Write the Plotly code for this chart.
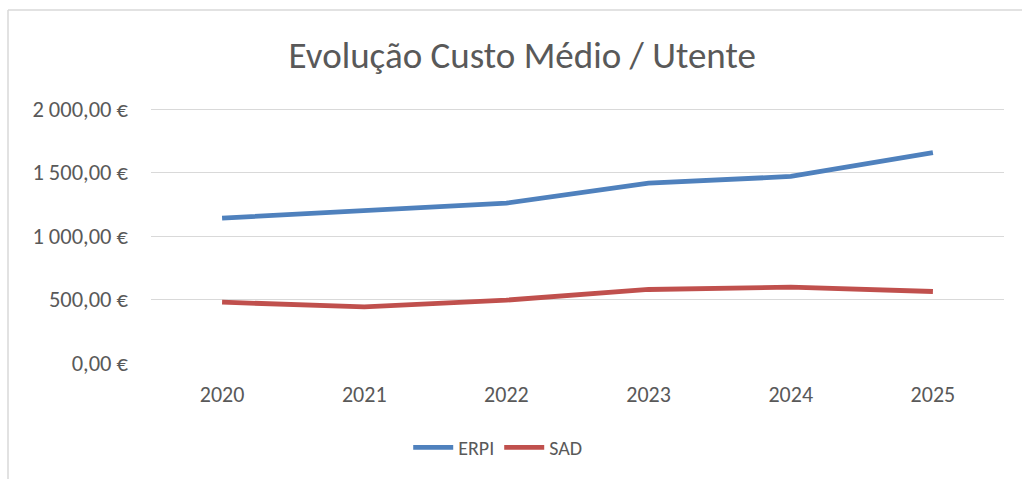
import plotly.graph_objects as go

# values
years = ["2020", "2021", "2022", "2023", "2024", "2025"]
erpi = [1141, 1202, 1259, 1416, 1469, 1657]
sad = [479, 442, 495, 579, 597, 563]

y_ticks = [0, 500, 1000, 1500, 2000]
y_tick_labels = ["0,00 €", "500,00 €", "1 000,00 €", "1 500,00 €", "2 000,00 €"]

font_family = "Carlito, Calibri, 'Open Sans', sans-serif"
grey = "#595959"

fig = go.Figure()
fig.add_trace(go.Scatter(x=years, y=erpi, name="ERPI", mode="lines",
                         line=dict(color="#4F81BD", width=4.8)))
fig.add_trace(go.Scatter(x=years, y=sad, name="SAD", mode="lines",
                         line=dict(color="#C0504D", width=4.8)))

fig.update_layout(
    width=1022, height=479,
    margin=dict(l=151, r=18, t=106, b=116),
    paper_bgcolor="white", plot_bgcolor="white",
    font=dict(family=font_family, color=grey, size=22),
    title=dict(text="Evolução Custo Médio / Utente", x=0.511, xref="container",
               xanchor="center", y=0.885, yanchor="middle",
               font=dict(size=37, color=grey)),
    showlegend=True,
    legend=dict(orientation="h", x=0.487, xref="container", xanchor="center",
                y=0.066, yref="container", yanchor="middle",
                font=dict(size=20, color=grey), itemwidth=40),
)
fig.update_xaxes(type="category", range=[-0.5, 5.5], showgrid=False,
                 showline=False, ticks="", tickfont=dict(size=22, color=grey),
                 ticklabelstandoff=16)
fig.update_yaxes(range=[0, 2024], tickvals=y_ticks, ticktext=y_tick_labels,
                 showgrid=True, gridcolor="#D9D9D9", gridwidth=1.3,
                 zeroline=False, showline=False, ticks="",
                 ticklabelstandoff=22, tickfont=dict(size=22.5, color=grey))

# chart frame (only top and left edges are in the crop)
fig.add_shape(type="line", xref="paper", yref="paper",
              x0=-143 / 853, x1=1.03, y0=1 + 96 / 257, y1=1 + 96 / 257,
              line=dict(color="#D9D9D9", width=1.5))
fig.add_shape(type="line", xref="paper", yref="paper",
              x0=-143 / 853, x1=-143 / 853, y0=1 + 96 / 257, y1=-0.5,
              line=dict(color="#D9D9D9", width=1.5))

fig.write_html("out.html", config={"displayModeBar": False},
               post_script="document.body.style.margin='0';")
